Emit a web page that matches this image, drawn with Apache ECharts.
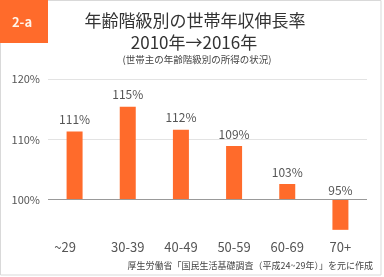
<!DOCTYPE html>
<html><head><meta charset="utf-8">
<script src="https://cdn.jsdelivr.net/npm/echarts@6/dist/echarts.min.js"></script>
<style>html,body{margin:0;padding:0;background:#fff}#c{width:384px;height:277px}</style>
</head><body><div id="c"></div>
<script>
var categories = ['~29', '30-39', '40-49', '50-59', '60-69', '70+'];
var growthPct = [111.3, 115.4, 111.6, 108.9, 102.6, 95.0];
var yTickLabels = ['100%', '110%', '120%'];
var baseline = 100;

var FONT = '"Noto Sans CJK JP", "Noto Sans", sans-serif';
var chart = echarts.init(document.getElementById('c'), null, {renderer: 'canvas'});
var barData = growthPct.map(function (v) {
  var d = +(v - baseline).toFixed(2);
  return d < 0 ? {value: d, label: {distance: 3}} : d;
});

chart.setOption({
  animation: false,
  backgroundColor: '#fff',
  textStyle: {fontFamily: FONT},
  grid: {left: 48, right: 17, top: 79, bottom: 17, containLabel: false, outerBoundsMode: 'none'},
  xAxis: {
    type: 'category',
    data: categories.map(function (c, i) {
      return i === 0 ? {value: c, textStyle: {padding: [0, 19, 0, 0]}} : c;
    }),
    axisLine: {show: false, onZero: false},
    axisTick: {show: false},
    axisLabel: {color: '#555', fontSize: 13, margin: -19, fontFamily: FONT}
  },
  yAxis: {
    type: 'value',
    min: -10, max: 20, interval: 10,
    axisLine: {show: false},
    axisTick: {show: false},
    splitLine: {show: true, showMinLine: false, lineStyle: {color: '#e3e3e3', width: 1}},
    axisLabel: {
      color: '#555', fontSize: 11, margin: 8, fontFamily: FONT,
      formatter: function (v) {
        var idx = Math.round(v / 10);
        return idx >= 0 && idx < yTickLabels.length ? yTickLabels[idx] : '';
      }
    }
  },
  series: [{
    type: 'bar',
    data: barData,
    barWidth: 16,
    itemStyle: {color: '#FF6B2B'},
    label: {
      show: true, position: 'top', distance: 6, color: '#555', fontSize: 12, fontFamily: FONT,
      formatter: function (p) { return Math.round(growthPct[p.dataIndex]) + '%'; }
    },
    markLine: {
      silent: true, symbol: 'none', label: {show: false},
      lineStyle: {color: '#999', width: 1, type: 'solid'},
      data: [{yAxis: 0}]
    }
  }],
  graphic: [
    {type: 'rect', shape: {x: 0.5, y: 0.5, width: 380.5, height: 274.5}, style: {fill: 'none', stroke: '#d9d9d9', lineWidth: 1}, z: 0},
    {type: 'rect', shape: {x: 0, y: 0, width: 48, height: 43}, style: {fill: '#FF6B2B'}, z: 10},
    {type: 'text', x: 22, y: 22, style: {text: '2-a', fill: '#fff4ea', font: 'bold 13px ' + FONT, align: 'center', verticalAlign: 'middle'}, z: 11},
    {type: 'text', x: 195, y: 21, style: {text: '年齢階級別の世帯年収伸長率', fill: '#333', font: '17px ' + FONT, align: 'center', verticalAlign: 'middle'}},
    {type: 'text', x: 194, y: 43, style: {text: '2010年→2016年', fill: '#333', font: '17px ' + FONT, align: 'center', verticalAlign: 'middle'}},
    {type: 'text', x: 197, y: 59, style: {text: '(世帯主の年齢階級別の所得の状況)', fill: '#444', font: '9.5px ' + FONT, align: 'center', verticalAlign: 'middle'}},
    {type: 'text', x: 373, y: 266, style: {text: '厚生労働省「国民生活基礎調査（平成24~29年）」を元に作成', fill: '#444', font: '9px ' + FONT, align: 'right', verticalAlign: 'middle'}}
  ]
});
</script>
</body></html>
